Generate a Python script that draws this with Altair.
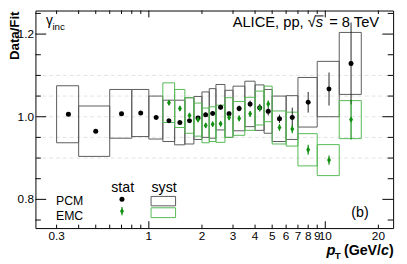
import altair as alt
import pandas as pd

# ---------------- data ----------------
pcm_lo = [0.3, 0.4, 0.6, 0.8, 1.0, 1.2, 1.4, 1.6, 1.8, 2.0, 2.2, 2.4, 2.7, 3.0, 3.5, 4.0, 4.5, 5.0, 6.0, 7.0, 9.0, 12.0]
pcm_hi = [0.4, 0.6, 0.8, 1.0, 1.2, 1.4, 1.6, 1.8, 2.0, 2.2, 2.4, 2.7, 3.0, 3.5, 4.0, 4.5, 5.0, 6.0, 7.0, 9.0, 12.0, 16.0]
pcm_x = [0.35, 0.5, 0.7, 0.9, 1.1, 1.3, 1.5, 1.7, 1.9, 2.1, 2.3, 2.55, 2.85, 3.25, 3.75, 4.25, 4.75, 5.5, 6.5, 8.0, 10.5, 14.0]
pcm_val = [1.006, 0.965, 1.007, 1.009, 0.998, 0.990, 0.986, 0.990, 0.997, 1.005, 1.008, 1.023, 1.007, 1.020, 1.031, 1.022, 1.013, 0.995, 0.998, 1.035, 1.067, 1.129]
pcm_stat = [0.004, 0.004, 0.004, 0.004, 0.004, 0.004, 0.004, 0.004, 0.005, 0.005, 0.005, 0.006, 0.006, 0.007, 0.008, 0.009, 0.010, 0.010, 0.024, 0.025, 0.040, 0.099]
pcm_syst = [0.069, 0.061, 0.059, 0.057, 0.052, 0.050, 0.054, 0.056, 0.052, 0.055, 0.060, 0.055, 0.057, 0.054, 0.055, 0.055, 0.053, 0.055, 0.053, 0.060, 0.067, 0.075]

emc_lo = [1.2, 1.4, 1.6, 1.8, 2.0, 2.2, 2.4, 2.7, 3.0, 3.5, 4.0, 4.5, 5.0, 6.0, 7.0, 9.0, 12.0]
emc_hi = [1.4, 1.6, 1.8, 2.0, 2.2, 2.4, 2.7, 3.0, 3.5, 4.0, 4.5, 5.0, 6.0, 7.0, 9.0, 12.0, 16.0]
emc_x = [1.3, 1.5, 1.7, 1.9, 2.1, 2.3, 2.55, 2.85, 3.25, 3.75, 4.25, 4.75, 5.5, 6.5, 8.0, 10.5, 14.0]
emc_val = [1.034, 1.020, 1.003, 0.993, 0.979, 0.982, 0.983, 0.998, 0.996, 1.007, 1.021, 1.031, 0.974, 0.970, 0.920, 0.895, 0.993]
emc_stat = [0.006, 0.006, 0.006, 0.006, 0.006, 0.006, 0.006, 0.006, 0.007, 0.007, 0.008, 0.008, 0.008, 0.010, 0.012, 0.011, 0.048]
emc_syst = [0.048, 0.046, 0.043, 0.040, 0.042, 0.042, 0.045, 0.048, 0.041, 0.040, 0.041, 0.043, 0.040, 0.041, 0.039, 0.0375, 0.046]

x_label_vals = [0.3, 1, 2, 3, 4, 5, 6, 7, 8, 9, 10, 20]
x_label_text = ["0.3", "1", "2", "3", "4", "5", "6", "7", "8", "9", "10", "20"]
x_major_ticks = [1, 10]
x_minor_ticks = [0.3, 0.4, 0.5, 0.6, 0.7, 0.8, 0.9, 2, 3, 4, 5, 6, 7, 8, 9, 20]
y_label_vals = [0.8, 1.0, 1.2]
y_label_text = ["0.8", "1.0", "1.2"]
y_major_ticks = [0.8, 1.0, 1.2]
y_minor_ticks = [0.75, 0.85, 0.9, 0.95, 1.05, 1.1, 1.15, 1.25]
grid_y = [0.9, 0.95, 1.0, 1.05, 1.1]

# ---------------- layout ----------------
W, H = 365, 222
XDOM = [0.2276, 24.24]
YDOM = [0.7305, 1.257]
FONT = "Liberation Sans"
BOXK = "#5a5a5a"
BOXG = "#55b855"
GRN = "#119011"

xs = alt.Scale(type="log", domain=XDOM, nice=False)
ys = alt.Scale(domain=YDOM, nice=False, zero=False)

pcm = pd.DataFrame(dict(lo=pcm_lo, hi=pcm_hi, x=pcm_x, v=pcm_val, s=pcm_stat, sy=pcm_syst))
emc = pd.DataFrame(dict(lo=emc_lo, hi=emc_hi, x=emc_x, v=emc_val, s=emc_stat, sy=emc_syst))
for d in (pcm, emc):
    d["b1"] = d.v - d.sy
    d["b2"] = d.v + d.sy
    d["e1"] = d.v - d.s
    d["e2"] = d.v + d.s

XN = dict(scale=xs, axis=None)
YN = dict(scale=ys, axis=None)

grid = alt.Chart(pd.DataFrame({"g": grid_y})).mark_rule(color="#e2e2e2", strokeDash=[4, 3], strokeWidth=1).encode(
    y=alt.Y("g:Q", **YN), x=alt.value(0), x2=alt.value(W))

box_k = alt.Chart(pcm).mark_rect(fill="white", fillOpacity=0, stroke=BOXK, strokeWidth=1).encode(
    x=alt.X("lo:Q", **XN), x2="hi:Q", y=alt.Y("b1:Q", **YN), y2="b2:Q")
box_g = alt.Chart(emc).mark_rect(fill="white", fillOpacity=0, stroke=BOXG, strokeWidth=1).encode(
    x=alt.X("lo:Q", **XN), x2="hi:Q", y=alt.Y("b1:Q", **YN), y2="b2:Q")
err_k = alt.Chart(pcm).mark_rule(color="#222222", strokeWidth=1).encode(
    x=alt.X("x:Q", **XN), y=alt.Y("e1:Q", **YN), y2="e2:Q")
err_g = alt.Chart(emc).mark_rule(color=GRN, strokeWidth=1.2).encode(
    x=alt.X("x:Q", **XN), y=alt.Y("e1:Q", **YN), y2="e2:Q")
DIAM = "M0,-1L0.62,0L0,1L-0.62,0Z"
pt_k = alt.Chart(pcm).mark_point(shape="circle", filled=True, size=26, color="black", opacity=1).encode(
    x=alt.X("x:Q", **XN), y=alt.Y("v:Q", **YN))
pt_g = alt.Chart(emc).mark_point(shape=DIAM, filled=True, size=42, color=GRN, opacity=1).encode(
    x=alt.X("x:Q", **XN), y=alt.Y("v:Q", **YN))

def xt(vals, y0, y1):
    return alt.Chart(pd.DataFrame({"t": vals})).mark_rule(color="black", strokeWidth=1).encode(
        x=alt.X("t:Q", **XN), y=alt.value(y0), y2=alt.value(y1))

def yt(vals, x0, x1):
    return alt.Chart(pd.DataFrame({"t": vals})).mark_rule(color="black", strokeWidth=1).encode(
        y=alt.Y("t:Q", **YN), x=alt.value(x0), x2=alt.value(x1))

ticks = [
    xt(x_major_ticks, H, H - 7), xt(x_minor_ticks, H, H - 3.5),
    xt(x_major_ticks, 0, 7), xt(x_minor_ticks, 0, 3.5),
    yt(y_major_ticks, 0, 11), yt(y_minor_ticks, 0, 5.5),
    yt(y_major_ticks, W, W - 11), yt(y_minor_ticks, W, W - 5.5),
]

xlab = alt.Chart(pd.DataFrame({"v": x_label_vals, "t": x_label_text})).mark_text(
    font=FONT, fontSize=12, align="center", baseline="top", color="black").encode(
    x=alt.X("v:Q", **XN), y=alt.value(H + 3), text="t:N")
ylab = alt.Chart(pd.DataFrame({"v": y_label_vals, "t": y_label_text})).mark_text(
    font=FONT, fontSize=12, align="right", baseline="middle", color="black").encode(
    y=alt.Y("v:Q", **YN), x=alt.value(-1.5), text="t:N")

one = pd.DataFrame({"a": [0]})

def txt(s, x, y, size=15, align="left", weight="normal", style="normal", angle=0, color="black"):
    return alt.Chart(one).mark_text(text=s, font=FONT, fontSize=size, align=align, baseline="alphabetic",
                                    fontWeight=weight, fontStyle=style, angle=angle, color=color).encode(
        x=alt.value(x), y=alt.value(y))

texts = [
    txt("γ", 10.7, 15, 14),
    txt("inc", 17.3, 20, 10),
    txt("= 8 TeV", 350.7, 17, 15, align="right"),
    txt("s", 293.6, 17, 15, align="right", style="italic"),
    txt("ALICE, pp, √", 286.1, 17, 15, align="right"),
    txt("(b)", 322.3, 211, 14.5),
    txt("stat", 89, 185, 14.5, align="center"),
    txt("syst", 131.3, 185, 14.5, align="center"),
    txt("PCM", 21, 198.5, 12.5),
    txt("EMC", 21, 213.5, 12.5),
    txt("Data/Fit", -16.5, 1, 13.5, align="right", weight="bold", angle=270),
    txt("p", 297, 249, 15, weight="bold", style="italic"),
    txt("T", 305.5, 254, 10, weight="bold"),
    txt(")", 365.5, 249, 14.5, align="right", weight="bold"),
    txt("c", 360.7, 249, 14.5, align="right", weight="bold", style="italic"),
    txt("(GeV/", 352.6, 249, 14.5, align="right", weight="bold"),
]

sqrt_bar = alt.Chart(one).mark_rule(color="black", strokeWidth=1).encode(
    x=alt.value(285.5), x2=alt.value(294), y=alt.value(5.5))

leg = [
    alt.Chart(one).mark_point(shape="circle", filled=True, size=26, color="black", opacity=1).encode(
        x=alt.value(88.3), y=alt.value(192.7)),
    alt.Chart(one).mark_point(shape=DIAM, filled=True, size=42, color=GRN, opacity=1).encode(
        x=alt.value(88.3), y=alt.value(204.7)),
    alt.Chart(one).mark_rule(color=GRN, strokeWidth=1.2).encode(
        x=alt.value(88.3), y=alt.value(200.5), y2=alt.value(209)),
    alt.Chart(one).mark_rect(fill="white", fillOpacity=0, stroke=BOXK, strokeWidth=1).encode(
        x=alt.value(118), x2=alt.value(143), y=alt.value(189.7), y2=alt.value(199.3)),
    alt.Chart(one).mark_rect(fill="white", fillOpacity=0, stroke=BOXG, strokeWidth=1).encode(
        x=alt.value(118), x2=alt.value(143), y=alt.value(201.3), y2=alt.value(211.3)),
]

chart = alt.layer(grid, box_k, box_g, err_k, err_g, pt_k, pt_g, *ticks, xlab, ylab, *texts, sqrt_bar, *leg).properties(
    width=W, height=H,
    padding={"left": 28, "top": 0, "right": 6, "bottom": 31},
    autosize=alt.AutoSizeParams(type="none"),
    background="white",
).configure_view(stroke="black", strokeWidth=1)

chart.save("out.html", embed_options={"renderer": "svg", "actions": False})
